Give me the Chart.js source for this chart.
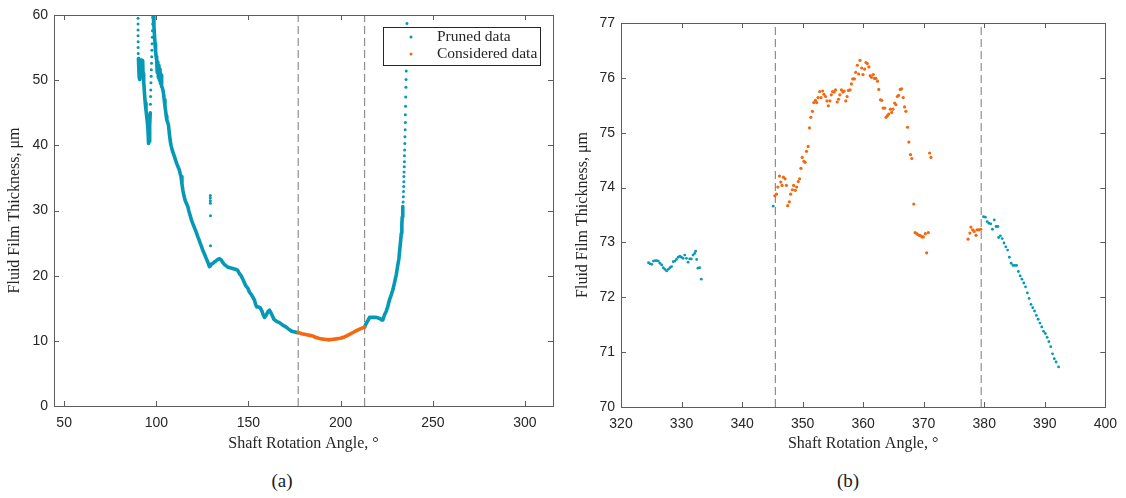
<!DOCTYPE html>
<html>
<head>
<meta charset="utf-8">
<script src="https://cdn.jsdelivr.net/npm/chart.js@4.4.0/dist/chart.umd.min.js"></script>
<style>
  body { margin: 0; background: #fff; width: 1126px; height: 498px; position: relative; overflow: hidden; }
  .panel { position: absolute; top: 0; width: 563px; height: 460px; }
  .caption { position: absolute; top: 470px; font-family: "Liberation Serif", serif; font-size: 19px; color: #1a1a1a; transform: translateX(-50%); }
</style>
</head>
<body>
<div class="panel" style="left:0"><canvas id="chartA"></canvas></div>
<div class="panel" style="left:563px"><canvas id="chartB"></canvas></div>
<div class="caption" style="left:282px">(a)</div>
<div class="caption" style="left:848px">(b)</div>
<script>
// --- (a) full revolution ---
const ticksAX = [50, 100, 150, 200, 250, 300];
const ticksAY = [0, 10, 20, 30, 40, 50, 60];
const cutoffsA = [177, 213];

// dense trace, early wobble and dip
const prunedRiseAngle = [90.3, 90.5, 90.7, 90.9, 91.1, 91.3, 91.5, 91.7, 92.0, 92.3, 92.6, 92.8, 93.0, 93.3, 93.7, 94.0, 94.4, 94.8, 95.2, 95.5, 95.7, 95.9, 96.1, 96.3, 96.5, 96.7];
const prunedRiseFilm  = [53.3, 52.0, 50.5, 50.1, 51.5, 53.0, 52.0, 53.1, 51.5, 52.6, 53.0, 51.0, 50.3, 49.8, 47.5, 46.5, 45.4, 44.4, 43.4, 42.2, 41.3, 40.3, 40.6, 41.5, 43.0, 45.0];

// dense trace, main descent down to the first cutoff
const prunedFallAngle = [98.4, 98.7, 99.0, 99.3, 99.6, 99.9, 100.2, 100.5, 100.8, 101.1, 101.4, 101.7, 102.0, 102.3, 102.6, 102.9, 103.3, 103.8, 104.3, 104.7,
  105.0, 105.4, 105.7, 106.2, 106.6, 107.0, 107.5, 108.0, 108.6, 109.2, 109.8, 110.5, 111.1, 111.8, 112.5, 113.0, 113.4, 113.9, 114.4, 115.0,
  115.6, 116.3, 117.1, 117.7, 118.3, 119.0, 119.8, 120.5, 121.2, 121.9, 122.5, 123.2, 123.8, 124.5, 125.2, 126.0, 126.7, 127.3, 127.9, 128.4,
  128.8, 129.4, 130.0, 130.8, 131.5, 132.5, 133.4, 134.3, 135.2, 136.1, 137.0, 137.9, 138.8, 140.0, 141.5, 142.8, 144.2, 145.1, 146.0, 147.0,
  147.8, 148.7, 149.6, 150.5, 151.5, 152.4, 153.3, 154.0, 154.5, 155.4, 156.3, 156.9, 157.4, 158.0, 158.7, 159.3, 159.9, 160.6, 161.4, 162.0,
  162.7, 163.8, 165.2, 166.8, 168.6, 170.5, 171.8, 173.2, 174.5, 175.9, 177.0];
const prunedFallFilm = [59.8, 58.3, 57.0, 55.6, 54.5, 53.6, 53.2, 51.2, 52.8, 50.4, 52.3, 50.0, 51.7, 49.5, 50.8, 49.0, 48.8, 48.2, 47.0, 46.0,
  45.4, 44.5, 43.9, 43.5, 43.1, 42.0, 40.8, 40.0, 39.3, 38.8, 38.3, 37.7, 37.2, 36.7, 36.2, 35.6, 35.2, 34.1, 33.1, 32.3,
  31.6, 31.1, 30.6, 29.9, 29.3, 28.6, 28.0, 27.5, 27.0, 26.5, 26.0, 25.5, 25.0, 24.5, 23.9, 23.4, 22.9, 22.5, 22.1, 21.7,
  21.4, 21.5, 21.8, 21.9, 22.1, 22.3, 22.5, 22.6, 22.4, 22.0, 21.7, 21.5, 21.3, 21.2, 21.1, 21.0, 20.8, 20.3, 20.0, 19.4,
  18.9, 18.4, 18.1, 17.5, 17.1, 16.7, 16.2, 15.5, 15.2, 15.2, 15.1, 14.8, 14.5, 14.0, 13.6, 13.8, 14.1, 14.5, 14.7, 14.4,
  14.0, 13.3, 13.0, 12.8, 12.4, 12.1, 11.8, 11.5, 11.4, 11.3, 11.25];

// dense trace, after the second cutoff
const prunedTailAngle = [213.0, 213.9, 214.8, 215.7, 216.6, 217.5, 218.4, 219.3, 220.4, 221.5, 222.2, 222.9, 223.8, 224.7, 225.6, 226.5, 227.5, 228.4, 229.3, 230.2,
  231.0, 231.6, 232.0, 232.5, 232.9, 233.2, 233.4, 233.6, 233.8];
const prunedTailFilm  = [12.1, 12.7, 13.1, 13.6, 13.6, 13.6, 13.6, 13.6, 13.5, 13.4, 13.2, 13.2, 14.0, 14.5, 15.3, 16.3, 17.1, 17.9, 19.0, 20.2,
  21.6, 22.6, 23.8, 25.2, 26.5, 27.8, 29.0, 30.0, 30.6];

// sparse samples on the steep flanks and the stray readings near 129 deg
const prunedDotAngle = [90.1, 90.1, 90.1, 90.1, 90.15, 90.15, 90.2,
  96.8, 96.9, 97.0, 97.1, 97.2, 97.3, 97.4, 97.5, 97.6, 97.7, 97.8, 97.9, 98.0, 98.1,
  129.3, 129.3, 129.3, 129.35, 129.4, 129.4,
  233.9, 234.0, 234.1, 234.2, 234.3, 234.3, 234.4, 234.5, 234.6, 234.6, 234.7, 234.8, 234.9, 235.0, 235.1, 235.1, 235.2, 235.3, 235.4, 235.5, 235.6, 235.65, 235.7, 235.8, 235.95];
const prunedDotFilm = [59.5, 58.6, 57.7, 56.8, 55.9, 55.0, 54.1,
  46.3, 47.5, 48.5, 49.6, 50.6, 51.6, 52.6, 53.6, 54.6, 55.6, 56.6, 57.6, 58.6, 59.6,
  32.3, 31.9, 31.5, 31.1, 29.2, 24.6,
  31.3, 32.1, 32.9, 33.7, 34.4, 35.2, 35.9, 36.7, 37.5, 38.4, 39.3, 40.3, 41.3, 42.4, 43.5, 44.7, 46.0, 47.4, 48.9, 50.1, 51.4, 53.0, 54.7, 56.6, 58.7];

const consideredAngleA = [177.0, 178.7, 180.4, 182.2, 184.0, 185.3, 186.7, 188.1, 189.5, 190.8, 192.2, 193.5, 194.9, 196.2, 197.6, 198.8, 199.9, 201.0, 202.1, 203.5,
  204.8, 206.2, 207.5, 208.9, 210.3, 211.6, 213.0];
const consideredFilmA  = [11.3, 11.1, 11.0, 10.9, 10.8, 10.7, 10.5, 10.4, 10.3, 10.25, 10.2, 10.15, 10.2, 10.25, 10.3, 10.35, 10.4, 10.5, 10.6, 10.8,
  11.0, 11.2, 11.4, 11.6, 11.8, 11.95, 12.1];

// --- (b) close-up near the film peak ---
const ticksBX = [320, 330, 340, 350, 360, 370, 380, 390, 400];
const ticksBY = [70, 71, 72, 73, 74, 75, 76, 77];
const cutoffsB = [345.5, 379.5];

const prunedAngleB = [324.54, 324.81, 325.08, 325.35, 325.63, 325.90, 326.17, 326.44, 326.72, 326.99, 327.26, 327.53, 327.81, 328.08, 328.35, 328.62, 328.90,
  329.17, 329.44, 329.72, 329.99, 330.26, 330.53, 330.81, 331.08, 331.35, 331.62, 331.90, 332.17, 332.33, 332.50, 332.71, 332.99, 333.26,
  345.14,
  379.88, 380.18, 380.48, 380.77, 381.07, 381.36, 381.66, 381.96, 382.26, 382.37, 382.67, 382.97, 383.26, 383.56, 383.86, 384.15, 384.45, 384.75,
  385.04, 385.34, 385.64, 385.93, 386.23, 386.53, 386.82, 387.12, 387.42, 387.72, 388.01, 388.31, 388.61, 388.90, 389.20, 389.50, 389.79, 390.09,
  390.39, 390.68, 390.98, 391.28, 391.57, 391.87, 392.28];
const prunedFilmB = [72.63, 72.61, 72.60, 72.66, 72.67, 72.67, 72.66, 72.62, 72.59, 72.54, 72.51, 72.48, 72.51, 72.54, 72.56, 72.65, 72.66,
  72.69, 72.73, 72.75, 72.73, 72.71, 72.77, 72.71, 72.64, 72.70, 72.70, 72.77, 72.80, 72.84, 72.69, 72.53, 72.54, 72.33,
  73.66,
  73.47, 73.46, 73.38, 73.35, 73.34, 73.24, 73.41, 73.29, 73.29, 73.09, 73.12, 73.07, 72.99, 72.92, 72.86, 72.73, 72.62, 72.58,
  72.58, 72.58, 72.47, 72.39, 72.33, 72.26, 72.19, 72.08, 71.98, 71.87, 71.81, 71.75, 71.67, 71.60, 71.53, 71.46, 71.38, 71.34,
  71.27, 71.19, 71.10, 70.97, 70.88, 70.82, 70.73];

const consideredAngleB = [345.41, 345.68, 345.90, 346.17, 346.39, 346.61, 346.83, 347.10, 347.32, 347.53, 347.81, 348.02, 348.30, 348.52, 348.79, 349.01,
  349.28, 349.50, 349.72, 349.93, 350.21, 350.42, 350.64, 350.91, 351.13, 351.35, 351.62, 351.84, 352.11, 352.33, 352.55, 352.82, 353.04, 353.31,
  353.53, 353.80, 354.02, 354.24, 354.51, 354.73, 354.95, 355.22, 355.44, 355.71, 355.93, 356.15, 356.42, 356.64, 356.86, 357.13, 357.35, 357.57,
  357.84, 358.06, 358.28, 358.55, 358.77, 359.04, 359.26, 359.48, 359.75, 359.97, 360.24, 360.46, 360.68, 360.95, 361.17, 361.38, 361.66, 361.87,
  362.09, 362.37, 362.58, 362.86, 363.07, 363.29, 363.57, 363.78, 364.00, 364.22, 364.49, 364.71, 364.93, 365.20, 365.42, 365.64, 365.85, 366.13,
  366.35, 366.62, 366.84, 367.05, 367.33, 367.55, 367.82, 368.04, 368.36, 368.58, 368.85, 369.07, 369.29, 369.51, 369.73, 369.94, 370.27, 370.49,
  370.76, 370.98, 371.20,
  377.33, 377.63, 377.80, 378.10, 378.34, 378.64, 378.81, 379.11, 379.41];
const consideredFilmB = [73.85, 73.88, 74.01, 74.21, 74.10, 74.04, 74.19, 74.16, 74.04, 73.67, 73.74, 73.88, 73.96, 74.04, 73.95, 74.01,
  74.11, 74.16, 74.35, 74.55, 74.48, 74.46, 74.66, 74.75, 75.09, 75.28, 75.39, 75.55, 75.59, 75.55, 75.64, 75.75, 75.64, 75.76,
  75.70, 75.66, 75.58, 75.49, 75.58, 75.69, 75.75, 75.74, 75.78, 75.56, 75.61, 75.69, 75.78, 75.74, 75.76, 75.58, 75.66, 75.77,
  75.78, 75.89, 75.98, 75.98, 76.10, 76.23, 76.07, 76.32, 76.18, 76.06, 76.16, 76.28, 76.26, 76.20, 76.04, 76.01, 76.06, 75.99,
  75.99, 75.94, 75.79, 75.60, 75.59, 75.45, 75.45, 75.28, 75.31, 75.34, 75.43, 75.37, 75.43, 75.54, 75.51, 75.66, 75.68, 75.79,
  75.80, 75.64, 75.47, 75.39, 75.10, 74.83, 74.60, 74.53, 73.70, 73.18, 73.16, 73.14, 73.13, 73.12, 73.10, 73.10, 73.16, 72.81,
  73.18, 74.63, 74.55,
  73.06, 73.17, 73.28, 73.23, 73.20, 73.13, 73.23, 73.23, 73.24];

const CYAN = '#0599b5';
const ORANGE = '#f5680f';
const INK = '#262626';

const toPoints = (xs, ys) => xs.map((x, i) => ({ x: x, y: ys[i] }));

function trace(xs, ys, color) {
  return { data: toPoints(xs, ys), showLine: true, borderColor: color, borderWidth: 3.6,
    borderCapStyle: 'round', borderJoinStyle: 'round', pointRadius: 0 };
}

function dots(xs, ys, color, r) {
  return { data: toPoints(xs, ys), showLine: false, backgroundColor: color, pointRadius: r, pointBorderWidth: 0 };
}

function cutoffLine(x, yMin, yMax) {
  return { data: [{ x: x, y: yMin }, { x: x, y: yMax }], showLine: true, borderColor: '#8f8f8f',
    borderWidth: 1.2, borderDash: [8, 4], pointRadius: 0, order: 5 };
}

// box around the plot area with inward tick marks on all four sides
const framePlugin = {
  id: 'frame',
  afterDraw(chart) {
    const { ctx, chartArea: a, scales: { x, y } } = chart;
    ctx.save();
    ctx.strokeStyle = '#5c5c5c';
    ctx.lineWidth = 1;
    ctx.strokeRect(Math.round(a.left) + 0.5, Math.round(a.top) + 0.5, Math.round(a.right - a.left), Math.round(a.bottom - a.top));
    ctx.beginPath();
    x.ticks.forEach(t => {
      const px = Math.round(x.getPixelForValue(t.value)) + 0.5;
      ctx.moveTo(px, a.bottom); ctx.lineTo(px, a.bottom - 5);
      ctx.moveTo(px, a.top); ctx.lineTo(px, a.top + 5);
    });
    y.ticks.forEach(t => {
      const py = Math.round(y.getPixelForValue(t.value)) + 0.5;
      ctx.moveTo(a.left, py); ctx.lineTo(a.left + 5, py);
      ctx.moveTo(a.right, py); ctx.lineTo(a.right - 5, py);
    });
    ctx.stroke();
    ctx.restore();
  }
};

// opaque legend box in the upper right corner of (a)
const legendBoxPlugin = {
  id: 'legendBox',
  afterDraw(chart, args, opts) {
    if (!opts.items) return;
    const { ctx, chartArea: a } = chart;
    const w = 157, h = 38;
    const left = Math.round(a.right - 13 - w), top = Math.round(a.top + 12);
    ctx.save();
    ctx.fillStyle = '#fff';
    ctx.fillRect(left, top, w, h);
    ctx.strokeStyle = '#262626';
    ctx.lineWidth = 1;
    ctx.strokeRect(left + 0.5, top + 0.5, w, h);
    ctx.font = '15.5px "Liberation Serif", serif';
    ctx.textBaseline = 'middle';
    opts.items.forEach((item, i) => {
      const cy = top + 10 + i * 17;
      ctx.fillStyle = item.color;
      ctx.beginPath();
      ctx.arc(left + 28, cy, 1.5, 0, Math.PI * 2);
      ctx.fill();
      ctx.fillStyle = INK;
      ctx.fillText(item.label, left + 54, cy);
    });
    ctx.restore();
  }
};

function axisOptions(cfg) {
  const tickFont = { family: '"Liberation Sans", Arial, sans-serif', size: 14 };
  const titleFont = { family: '"Liberation Serif", serif', size: 16 };
  return {
    x: {
      type: 'linear', min: cfg.xMin, max: cfg.xMax,
      afterBuildTicks: s => { s.ticks = cfg.xTicks.map(v => ({ value: v })); },
      afterFit: s => { s.height = cfg.xHeight; },
      grid: { display: false, drawTicks: false }, border: { display: false },
      ticks: { color: INK, font: tickFont, padding: 9, maxRotation: 0 },
      title: { display: true, text: 'Shaft Rotation Angle, °', color: INK, font: titleFont, padding: { top: 0, bottom: 7 } }
    },
    y: {
      type: 'linear', min: cfg.yMin, max: cfg.yMax,
      afterBuildTicks: s => { s.ticks = cfg.yTicks.map(v => ({ value: v })); },
      afterFit: s => { s.width = cfg.yWidth; },
      grid: { display: false, drawTicks: false }, border: { display: false },
      ticks: { color: INK, font: tickFont, padding: 6 },
      title: { display: true, text: 'Fluid Film Thickness, μm', color: INK, font: titleFont, padding: { top: cfg.yTitlePad, bottom: 0 } }
    }
  };
}

function baseOptions(cfg, legendItems) {
  return {
    responsive: true, maintainAspectRatio: false, animation: false,
    layout: { padding: { top: cfg.padTop, right: cfg.padRight, left: 0, bottom: 0 } },
    plugins: { legend: { display: false }, tooltip: { enabled: false }, legendBox: { items: legendItems } },
    scales: axisOptions(cfg)
  };
}

const cfgA = { xMin: 44.5, xMax: 315.2, yMin: 0, yMax: 60, xTicks: ticksAX, yTicks: ticksAY,
  xHeight: 54, yWidth: 54, padTop: 15, padRight: 10, yTitlePad: 5 };
const cfgB = { xMin: 320, xMax: 400, yMin: 70, yMax: 77, xTicks: ticksBX, yTicks: ticksBY,
  xHeight: 53, yWidth: 58, padTop: 23, padRight: 16, yTitlePad: 10 };

new Chart(document.getElementById('chartA'), {
  type: 'scatter',
  data: {
    datasets: [
      trace(consideredAngleA, consideredFilmA, ORANGE),
      trace(prunedRiseAngle, prunedRiseFilm, CYAN),
      trace(prunedFallAngle, prunedFallFilm, CYAN),
      trace(prunedTailAngle, prunedTailFilm, CYAN),
      dots(prunedDotAngle, prunedDotFilm, CYAN, 1.5),
      ...cutoffsA.map(c => cutoffLine(c, cfgA.yMin, cfgA.yMax))
    ]
  },
  options: baseOptions(cfgA, [{ label: 'Pruned data', color: CYAN }, { label: 'Considered data', color: ORANGE }]),
  plugins: [framePlugin, legendBoxPlugin]
});

new Chart(document.getElementById('chartB'), {
  type: 'scatter',
  data: {
    datasets: [
      dots(consideredAngleB, consideredFilmB, ORANGE, 1.6),
      dots(prunedAngleB, prunedFilmB, CYAN, 1.4),
      ...cutoffsB.map(c => cutoffLine(c, cfgB.yMin, cfgB.yMax))
    ]
  },
  options: baseOptions(cfgB, null),
  plugins: [framePlugin, legendBoxPlugin]
});
</script>
</body>
</html>
